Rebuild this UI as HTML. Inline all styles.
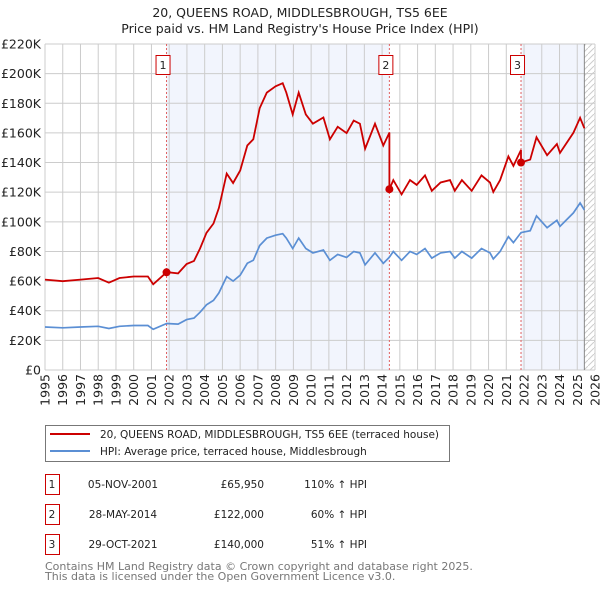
<!DOCTYPE html>
<html><head><meta charset="utf-8"><style>
body{margin:0;background:#fff;font-family:"DejaVu Sans","Liberation Sans",sans-serif;}
svg text{font-family:"DejaVu Sans","Liberation Sans",sans-serif;}
</style></head><body>
<svg id="chart" width="600" height="590" xmlns="http://www.w3.org/2000/svg">
<defs><pattern id="hatch" width="6" height="6" patternUnits="userSpaceOnUse"><path d="M0,6 L6,0" stroke="#ccc" stroke-width="1"/></pattern></defs>
<text x="300" y="17" text-anchor="middle" font-size="12.5" fill="#222">20, QUEENS ROAD, MIDDLESBROUGH, TS5 6EE</text>
<text x="300" y="33" text-anchor="middle" font-size="12.5" fill="#222">Price paid vs. HM Land Registry's House Price Index (HPI)</text>
<g id="plot"></g>
<g>
<rect x="45.5" y="425.5" width="404" height="36" fill="#fff" stroke="#777"/>
<line x1="50" y1="434" x2="90" y2="434" stroke="#cc0000" stroke-width="2"/>
<text x="100" y="438" font-size="10.5" fill="#222">20, QUEENS ROAD, MIDDLESBROUGH, TS5 6EE (terraced house)</text>
<line x1="50" y1="451" x2="90" y2="451" stroke="#5b8fd4" stroke-width="2"/>
<text x="100" y="455" font-size="10.5" fill="#222">HPI: Average price, terraced house, Middlesbrough</text>
</g>
<g id="table" font-size="10.5" fill="#222"></g>
<text x="45" y="570" font-size="11" fill="#777">Contains HM Land Registry data © Crown copyright and database right 2025.</text>
<text x="45" y="580" font-size="11" fill="#777">This data is licensed under the Open Government Licence v3.0.</text>
</svg>
<script>
const hpiYears=[1995.0,1996.0,1997.0,1998.0,1998.6,1999.2,2000.0,2000.8,2001.1,2001.86,2002.5,2002.98,2003.4,2003.74,2004.1,2004.5,2004.8,2005.24,2005.6,2006.0,2006.4,2006.74,2007.1,2007.5,2008.0,2008.4,2008.6,2008.96,2009.3,2009.7,2010.1,2010.69,2011.06,2011.5,2012.0,2012.4,2012.75,2013.04,2013.6,2014.07,2014.4,2014.63,2015.1,2015.57,2015.95,2016.42,2016.8,2017.3,2017.83,2018.1,2018.5,2019.05,2019.6,2020.08,2020.27,2020.65,2021.12,2021.4,2021.83,2022.35,2022.7,2023.3,2023.85,2024.03,2024.78,2025.16,2025.4];
const hpiValues=[29,28.5,29,29.5,28,29.5,30,30,27.5,31.4,31,34,35,39,44,47,52,63,60,64,72,74,84,89,91,92,89,82,89,82,79,81,74,78,76,80,79,71,79,72,76,80,74,80,78,82,75.5,79,80,75.5,80,75.5,82,79,75,80,90,86,92.7,94,104,96,101,97,106,112.7,108];
const saleYears=[2001.85,2014.41,2021.83];
const salePrices=[65950,122000,140000];
const saleLabels=["1","2","3"];
const saleDates=["05-NOV-2001","28-MAY-2014","29-OCT-2021"];
const salePriceText=["£65,950","£122,000","£140,000"];
const saleHpiText=["110% ↑ HPI","60% ↑ HPI","51% ↑ HPI"];
const yTicks=[0,20,40,60,80,100,120,140,160,180,200,220];
const xTicks=[1995,1996,1997,1998,1999,2000,2001,2002,2003,2004,2005,2006,2007,2008,2009,2010,2011,2012,2013,2014,2015,2016,2017,2018,2019,2020,2021,2022,2023,2024,2025,2026];
const NS="http://www.w3.org/2000/svg";
const L=45,R=595,T=44,B=370,X0=1995,X1=2026,YMAX=220;
const sx=y=>L+(y-X0)*(R-L)/(X1-X0);
const sy=v=>B-v*(B-T)/YMAX;
function hpiAt(t){for(let i=0;i<hpiYears.length-1;i++){if(t<=hpiYears[i+1]){const f=(t-hpiYears[i])/(hpiYears[i+1]-hpiYears[i]);return hpiValues[i]+f*(hpiValues[i+1]-hpiValues[i]);}}return hpiValues[hpiValues.length-1];}
const g=document.getElementById('plot');
function mk(tag,attrs,parent){const e=document.createElementNS(NS,tag);for(const k in attrs)e.setAttribute(k,attrs[k]);(parent||g).appendChild(e);return e;}
let r=mk('rect',{x:sx(saleYears[0]),y:T,width:sx(saleYears[1])-sx(saleYears[0]),height:B-T,fill:'#f2f5fd'});


const lastYr=hpiYears[hpiYears.length-1];
r=mk('rect',{x:sx(saleYears[2]),y:T,width:sx(lastYr)-sx(saleYears[2]),height:B-T,fill:'#f2f5fd'});


r=mk('rect',{x:sx(lastYr),y:T,width:R-sx(lastYr),height:B-T,fill:'url(#hatch)'});


yTicks.forEach(v=>{const l=mk('line',{x1:L,x2:R,y1:sy(v),y2:sy(v),stroke:'#ccc','stroke-width':1});


const t=mk('text',{x:L-4,y:sy(v)+4.5,'text-anchor':'end','font-size':12.5,fill:'#222'});t.textContent=v===0?'£0':'£'+v+'K';

});
xTicks.forEach(v=>{const l=mk('line',{x1:sx(v),x2:sx(v),y1:T,y2:B,stroke:'#ccc','stroke-width':1});


const t=mk('text',{transform:`translate(${sx(v)+4.5},${B+4}) rotate(-90)`,'text-anchor':'end','font-size':12.5,fill:'#222'});t.textContent=v;

});
let el=mk('line',{x1:sx(lastYr),x2:sx(lastYr),y1:T,y2:B,stroke:'#888','stroke-width':1});


saleYears.forEach((s,i)=>{const l=mk('line',{x1:sx(s),x2:sx(s),y1:T,y2:B,stroke:'#e06060','stroke-width':1,'stroke-dasharray':'2,2'});

});
let d=hpiYears.map((y,i)=>(i?'L':'M')+sx(y).toFixed(1)+','+sy(hpiValues[i]).toFixed(1)).join(' ');
el=mk('path',{d:d,fill:'none',stroke:'#5b8fd4','stroke-width':1.7});


const fac=saleYears.map((s,i)=>salePrices[i]/1000/hpiAt(s));
function segFor(t){let k=0;for(let i=0;i<saleYears.length;i++)if(t>=saleYears[i])k=i;return k;}
let seq=[];
hpiYears.forEach((y,i)=>seq.push([y,hpiValues[i]]));
saleYears.forEach(s=>seq.push([s,hpiAt(s)]));
seq.sort((a,b)=>a[0]-b[0]);
let pd='';let first=true;
seq.forEach(([t,v])=>{
  const k=segFor(t);
  for(let j=1;j<saleYears.length;j++){ if(Math.abs(t-saleYears[j])<1e-9){ pd+=(first?'M':'L')+sx(t).toFixed(1)+','+sy(v*fac[j-1]).toFixed(1)+' '; first=false; } }
  pd+=(first?'M':'L')+sx(t).toFixed(1)+','+sy(v*fac[k]).toFixed(1)+' ';first=false;
});
el=mk('path',{d:pd,fill:'none',stroke:'#cc0000','stroke-width':1.8});


saleYears.forEach((s,i)=>{
 const c=mk('circle',{cx:sx(s),cy:sy(salePrices[i]/1000),r:4,fill:'#cc0000'});
 
 
 const bx=mk('rect',{x:sx(s)-10.5,y:55.5,width:14,height:19,fill:'#fff',stroke:'#cc0000'});
 
 
 const t=mk('text',{x:sx(s)-3.5,y:69,'text-anchor':'middle','font-size':11,fill:'#222'});t.textContent=saleLabels[i];
 
 
});
const tb=document.getElementById('table');
saleLabels.forEach((lb,i)=>{
 const y=483+i*30;
 const bx=mk('rect',{x:45.5,y:y-8.5,width:14,height:20,fill:'#fff',stroke:'#cc0000'},tb);
 
 
 const vals=[[52,lb,'middle'],[123,saleDates[i],'middle'],[264,salePriceText[i],'end'],[367,saleHpiText[i],'end']];
 vals.forEach(([x,txt,a],j)=>{const t=mk('text',{x:x,y:y+5,'text-anchor':a},tb);t.textContent=txt;
 
 });
});
</script>
</body></html>
